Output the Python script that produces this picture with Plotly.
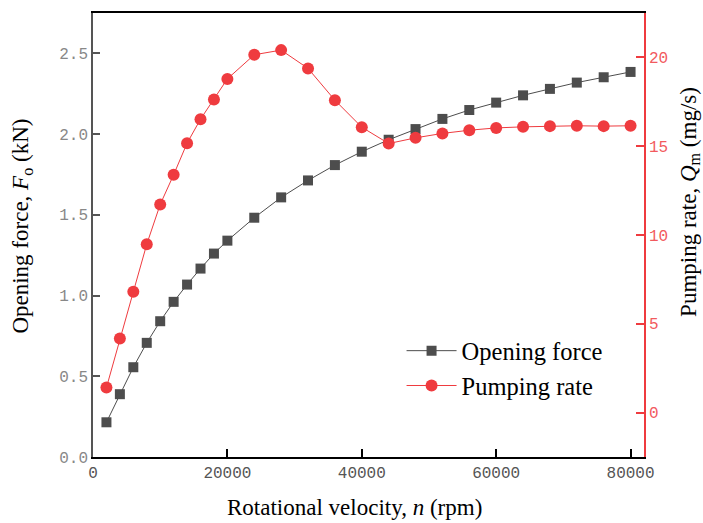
import plotly.graph_objects as go

rpm = [2000, 4000, 6000, 8000, 10000, 12000, 14000, 16000, 18000, 20000,
       24000, 28000, 32000, 36000, 40000, 44000, 48000, 52000, 56000, 60000,
       64000, 68000, 72000, 76000, 80000]
opening_force = [0.215, 0.389, 0.556, 0.707, 0.841, 0.961, 1.068, 1.167, 1.26, 1.34,
                 1.482, 1.608, 1.713, 1.808, 1.891, 1.965, 2.031, 2.094, 2.149, 2.195,
                 2.240, 2.280, 2.319, 2.352, 2.385]
pumping_rate = [1.41, 4.17, 6.80, 9.48, 11.72, 13.39, 15.17, 16.52, 17.63, 18.79,
                20.15, 20.41, 19.38, 17.59, 16.07, 15.15, 15.47, 15.72, 15.90, 16.03,
                16.09, 16.13, 16.15, 16.13, 16.15]

left_ticks = [0.0, 0.5, 1.0, 1.5, 2.0, 2.5]
left_ticktext = ["0.0", "0.5", "1.0", "1.5", "2.0", "2.5"]
right_ticks = [0, 5, 10, 15, 20]
x_ticks = [0, 20000, 40000, 60000, 80000]

GRAY = "#4d4d4d"
RED = "#ef3b3f"

fig = go.Figure()
fig.add_trace(go.Scatter(
    x=rpm, y=opening_force, name="Opening force", mode="lines+markers",
    line=dict(color=GRAY, width=1),
    marker=dict(symbol="square", size=10, color=GRAY),
    yaxis="y"))
fig.add_trace(go.Scatter(
    x=rpm, y=pumping_rate, name="Pumping rate", mode="lines+markers",
    line=dict(color=RED, width=1),
    marker=dict(symbol="circle", size=12, color=RED),
    yaxis="y2"))

fig.update_layout(
    width=703, height=523,
    margin=dict(l=93, r=59, t=13, b=66),
    paper_bgcolor="white", plot_bgcolor="white",
    showlegend=True,
    legend=dict(x=0.56, y=0.29, xanchor="left", yanchor="top",
                font=dict(family="Liberation Serif", size=24.5, color="black"),
                bgcolor="rgba(0,0,0,0)", tracegroupgap=0, itemwidth=50),
    xaxis=dict(range=[0, 82000], tickvals=x_ticks, ticktext=[str(v) for v in x_ticks],
               showgrid=False, zeroline=False,
               showline=True, linecolor="black", linewidth=1.5, mirror=True,
               ticks="inside", ticklen=8, tickcolor="black", tickwidth=1.5,
               tickfont=dict(family="Liberation Mono", size=16, color="#555555")),
    yaxis=dict(range=[0, 2.75], tickvals=left_ticks, ticktext=left_ticktext,
               showgrid=False, zeroline=False,
               showline=True, linecolor="#555555", linewidth=1.5,
               ticks="inside", ticklen=7, tickcolor="#555555", tickwidth=1.5,
               tickfont=dict(family="Liberation Mono", size=16, color="#888888")),
    yaxis2=dict(range=[-2.5, 22.5], tickvals=right_ticks, ticktext=[str(v) for v in right_ticks],
                overlaying="y", side="right", anchor="x",
                showgrid=False, zeroline=False,
                showline=True, linecolor=RED, linewidth=1.5,
                ticks="inside", ticklen=8, tickcolor=RED, tickwidth=1.5,
                tickfont=dict(family="Liberation Mono", size=16, color="#f25a5e")),
    annotations=[
        dict(text="Rotational velocity, <i>n</i> (rpm)", xref="paper", yref="paper",
             x=0.475, y=-0.082, xanchor="center", yanchor="top", showarrow=False,
             font=dict(family="Liberation Serif", size=23, color="black")),
        dict(text="Opening force, <i>F</i><sub>o</sub> (kN)", xref="paper", yref="paper",
             x=-0.128, y=0.52, xanchor="center", yanchor="middle", showarrow=False,
             textangle=-90,
             font=dict(family="Liberation Serif", size=23, color="black")),
        dict(text="Pumping rate, <i>Q</i><sub>m</sub> (mg/s)", xref="paper", yref="paper",
             x=1.083, y=0.574, xanchor="center", yanchor="middle", showarrow=False,
             textangle=-90,
             font=dict(family="Liberation Serif", size=23, color="black")),
    ],
)

fig.write_html("out.html")
